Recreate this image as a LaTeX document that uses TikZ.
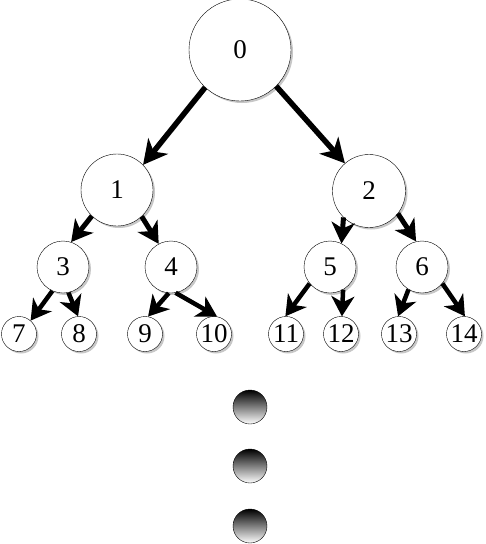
\documentclass[tikz,border=0pt]{standalone}
\usepackage{fontspec}
\setmainfont{Liberation Serif}
\usetikzlibrary{arrows.meta,shadows}

\tikzset{
  heapnode/.style={circle, draw, fill=white, inner sep=0pt,
    font=\fontsize{27}{27}\selectfont,
    drop shadow={shadow xshift=2pt, shadow yshift=-2pt, opacity=0.4, fill=black!55}},
  toplink/.style={line width=5.5pt, -{Stealth[length=24pt,width=25pt,inset=7pt]}},
  midlink/.style={line width=5pt, -{Stealth[length=21pt,width=23pt,inset=6pt]}},
  lowlink/.style={line width=4.5pt, -{Stealth[length=20pt,width=23pt,inset=6pt]}},
  moredot/.style={circle, draw, minimum size=34pt, inner sep=0pt, top color=black, bottom color=white}
}

\begin{document}
\begin{tikzpicture}[x=1pt, y=-1pt]
    \useasboundingbox(0,0)rectangle(486,544);
    % root
    \node[heapnode, minimum size=102pt](n0)at(240,50){0};
    % level one
    \node[heapnode, minimum size=72pt](n1)at(117,190){1};
    \node[heapnode, minimum size=73pt](n2)at(369,191){2};
    % level two
    \node[heapnode, minimum size=52pt](n3)at(63,267){3};
    \node[heapnode, minimum size=52pt](n4)at(171,267){4};
    \node[heapnode, minimum size=52pt](n5)at(330,267){5};
    \node[heapnode, minimum size=52pt](n6)at(422,267){6};
    % leaves
    \foreach \name/\x in {7/19, 8/79, 9/145, 10/214, 11/286, 12/341, 13/399, 14/464}
      \node[heapnode, minimum size=35pt](n\name)at(\x,334){\name};
    % links
    \path[draw, toplink](n0.227)to(n1.44);
    \path[draw, toplink](n0.315)to(n2.131);
    \path[draw, midlink](n1.226)to(n3.72);
    \path[draw, midlink](n1.313)to(n4.118);
    \path[draw, midlink](n2.226)to(n5.64);
    \path[draw, midlink](n2.322)to(n6.103);
    \path[draw, lowlink](n3.246)to(n7.49);
    \path[draw, lowlink](n3.282)to(n8.93);
    \path[draw, lowlink](n4.265)to(n9.80);
    \path[draw, lowlink](n4.280)to(n10.80);
    \path[draw, lowlink](n5.219)to(n11.92);
    \path[draw, lowlink](n5.300)to(n12.87);
    \path[draw, lowlink](n6.239)to(n13.93);
    \path[draw, lowlink](n6.321)to(n14.87);
    % more levels
    \node[moredot](d1)at(250,407){};
    \node[moredot](d2)at(250,466){};
    \node[moredot](d3)at(250,526){};
\end{tikzpicture}
\end{document}
